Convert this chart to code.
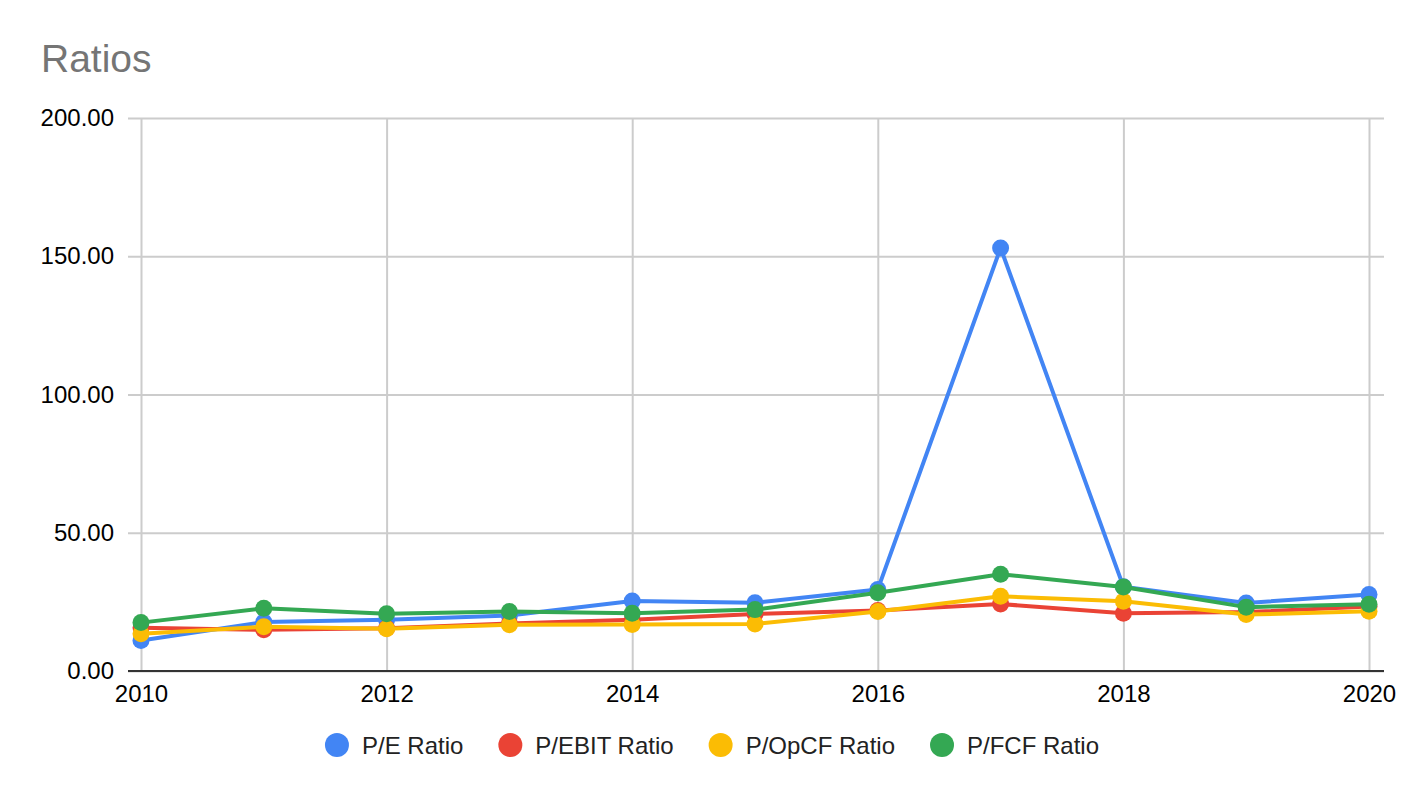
<!DOCTYPE html>
<html>
<head>
<meta charset="utf-8">
<script src="https://cdn.jsdelivr.net/npm/d3@7"></script>
<style>
  body { margin: 0; background: #fff; }
  text { font-family: Arial, "Liberation Sans", sans-serif; }
</style>
</head>
<body>
<div id="chart"></div>
<script>
const years = [2010, 2011, 2012, 2013, 2014, 2015, 2016, 2017, 2018, 2019, 2020];
const peRatio = [11.0, 17.7, 18.5, 20.1, 25.3, 24.7, 29.5, 153.0, 30.5, 24.6, 27.7];
const pEbitRatio = [15.6, 14.9, 15.5, 17.2, 18.5, 20.6, 21.9, 24.2, 20.9, 21.3, 23.3];
const pOpcfRatio = [13.5, 16.0, 15.3, 16.7, 16.8, 17.0, 21.5, 27.0, 25.2, 20.4, 21.6];
const pFcfRatio = [17.5, 22.7, 20.7, 21.5, 20.9, 22.2, 28.3, 35.0, 30.4, 23.1, 24.1];
const yTicks = [0, 50, 100, 150, 200];
const xTicks = [2010, 2012, 2014, 2016, 2018, 2020];

const series = [
  { name: "P/E Ratio", values: peRatio, color: "#4285F4" },
  { name: "P/EBIT Ratio", values: pEbitRatio, color: "#EA4335" },
  { name: "P/OpCF Ratio", values: pOpcfRatio, color: "#FBBC04" },
  { name: "P/FCF Ratio", values: pFcfRatio, color: "#34A853" }
];

const width = 1424;
const height = 798;
const margin = { top: 118, right: 55, bottom: 127, left: 141 };

const svg = d3
  .select("#chart")
  .append("svg")
  .attr("width", width)
  .attr("height", height);

const x = d3
  .scaleLinear()
  .domain([2010, 2020])
  .range([margin.left, width - margin.right]);

const y = d3
  .scaleLinear()
  .domain([0, 200])
  .range([height - margin.bottom, margin.top]);

svg
  .append("text")
  .attr("x", 41)
  .attr("y", 72)
  .attr("fill", "#757575")
  .attr("font-size", "39px")
  .text("Ratios");

// horizontal grid + y labels
const yAxis = svg
  .append("g")
  .attr("transform", `translate(${margin.left - 13},0)`)
  .call(
    d3
      .axisLeft(y)
      .tickValues(yTicks)
      .tickFormat(d3.format(".2f"))
      .tickSize(-(width - margin.right - margin.left + 28))
      .tickPadding(14)
  );
yAxis.select(".domain").remove();
yAxis.selectAll(".tick line").attr("stroke", "#cccccc").attr("stroke-width", 2);
yAxis
  .selectAll(".tick text")
  .attr("fill", "#000")
  .attr("font-size", "24px")
  .attr("font-family", "Arial, 'Liberation Sans', sans-serif");

// vertical grid + x labels
const xAxis = svg
  .append("g")
  .attr("transform", `translate(0,${height - margin.bottom})`)
  .call(
    d3
      .axisBottom(x)
      .tickValues(xTicks)
      .tickFormat(d3.format("d"))
      .tickSize(-(height - margin.bottom - margin.top))
      .tickPadding(14)
  );
xAxis.select(".domain").remove();
xAxis.selectAll(".tick line").attr("stroke", "#cccccc").attr("stroke-width", 2);
xAxis
  .selectAll(".tick text")
  .attr("fill", "#000")
  .attr("font-size", "24px")
  .attr("font-family", "Arial, 'Liberation Sans', sans-serif");

// baseline
svg
  .append("line")
  .attr("x1", margin.left - 13)
  .attr("x2", width - margin.right + 15)
  .attr("y1", y(0))
  .attr("y2", y(0))
  .attr("stroke", "#333333")
  .attr("stroke-width", 2);

const line = d3
  .line()
  .x((d, i) => x(years[i]))
  .y((d) => y(d));

series.forEach((s) => {
  svg
    .append("path")
    .datum(s.values)
    .attr("fill", "none")
    .attr("stroke", s.color)
    .attr("stroke-width", 4)
    .attr("stroke-linejoin", "round")
    .attr("d", line);

  svg
    .append("g")
    .selectAll("circle")
    .data(s.values)
    .join("circle")
    .attr("cx", (d, i) => x(years[i]))
    .attr("cy", (d) => y(d))
    .attr("r", 8.5)
    .attr("fill", s.color);
});

// legend
const legend = svg.append("g").attr("class", "legend");
let offset = 0;
series.forEach((s) => {
  const item = legend.append("g");
  item
    .append("circle")
    .attr("cx", 12)
    .attr("cy", 0)
    .attr("r", 12)
    .attr("fill", s.color);
  const t = item
    .append("text")
    .attr("x", 37)
    .attr("y", 8.5)
    .attr("font-size", "24px")
    .attr("fill", "#222")
    .text(s.name);
  const w = 37 + t.node().getComputedTextLength();
  item.attr("transform", `translate(${offset},745)`);
  offset += w + 35;
});
const total = offset - 35;
legend.attr("transform", `translate(${width / 2 - total / 2},0)`);
</script>
</body>
</html>
